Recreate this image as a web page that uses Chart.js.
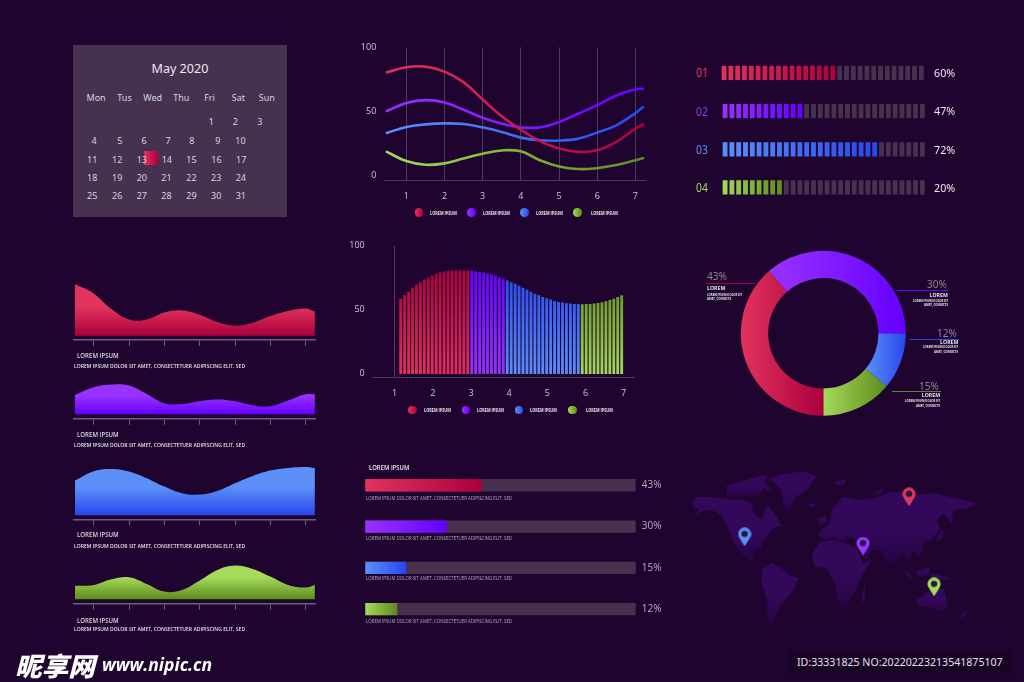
<!DOCTYPE html>
<html>
<head>
<meta charset="utf-8">
<title>Dashboard</title>
<script src="https://cdn.jsdelivr.net/npm/chart.js@4/dist/chart.umd.min.js"></script>
<style>
  html, body { margin: 0; padding: 0; width: 1024px; height: 682px; overflow: hidden; background: #1e042e; }
  canvas, .t, .r, svg { position: absolute; }
  .t { white-space: nowrap; line-height: 1; font-family: "Open Sans", sans-serif; transform-origin: 0 50%; }
</style>
</head>
<body>
<svg style="left:680px;top:460px" width="320" height="180" viewBox="0 0 960 540">
  <defs><linearGradient id="land" x1="0" y1="0" x2="0" y2="1">
    <stop offset="0" stop-color="#33075a"/><stop offset="0.5" stop-color="#33075a"/><stop offset="1" stop-color="#270445"/>
  </linearGradient></defs>
  <g fill="url(#land)">
    <path d="M35,125 L50,112 L90,110 L130,115 L150,120 L175,118 L205,125 L222,135 L215,150 L232,170 L248,178 L250,160 L262,135 L280,155 L292,175 L305,198 L285,200 L270,215 L258,235 L245,250 L245,265 L232,262 L225,275 L218,290 L240,315 L225,305 L205,297 L190,285 L175,268 L160,245 L150,220 L140,195 L125,170 L110,155 L85,150 L60,155 L45,168 L58,148 L40,140 Z"/>
    <path d="M140,78 L190,62 L240,48 L262,45 L255,65 L275,95 L250,85 L240,105 L200,108 L140,110 Z"/>
    <path d="M268,55 L320,40 L370,35 L410,48 L385,85 L345,115 L325,155 L310,130 L305,90 Z"/>
    <path d="M380,135 L405,128 L405,140 L385,143 Z"/>
    <path d="M465,65 L500,57 L490,75 L470,78 Z"/>
    <path d="M245,330 L275,310 L305,325 L325,345 L355,355 L340,390 L320,415 L295,445 L275,495 L262,470 L262,420 L245,370 Z"/>
    <path d="M395,285 L420,245 L470,240 L510,255 L530,265 L550,310 L575,300 L545,350 L530,390 L495,438 L475,425 L465,370 L440,325 L405,320 Z"/>
    <path d="M415,225 L430,205 L450,190 L455,150 L490,110 L540,120 L580,115 L640,95 L700,105 L760,100 L830,115 L890,130 L865,145 L820,150 L815,190 L790,160 L770,180 L780,205 L750,245 L735,240 L720,290 L695,275 L690,300 L665,285 L640,310 L620,310 L605,270 L575,270 L560,300 L530,260 L520,235 L500,230 L490,245 L460,230 L430,240 Z"/>
    <path d="M415,180 L435,165 L440,190 L420,195 Z"/>
    <path d="M575,110 L610,80 L605,100 Z"/>
    <path d="M775,225 L790,205 L790,230 L765,250 Z"/>
    <path d="M670,330 L700,350 L690,360 Z"/>
    <path d="M710,335 L745,320 L750,345 L715,350 Z"/>
    <path d="M755,340 L810,355 L790,365 L750,355 Z"/>
    <path d="M710,420 L745,395 L790,385 L805,440 L780,455 L750,440 L715,440 Z"/>
    <path d="M835,470 L865,450 L850,475 Z"/>
    <path d="M545,410 L555,375 L555,410 L545,440 Z"/>
  </g>
</svg>
<script>
// line chart
const lineX = [0.49, 1, 1.5, 2, 2.5, 3, 3.5, 4, 4.5, 5, 5.5, 6, 6.5, 7, 7.2];
const lineRed = [80.6, 84.5, 85, 81.1, 72.9, 59.4, 46.3, 35.9, 26.9, 21.2, 18.6, 19.9, 26.4, 36.7, 39.8];
const linePurple = [50.4, 56.6, 58.9, 57.1, 51.4, 45.2, 40.6, 37.7, 37.7, 41.9, 48.3, 55, 62.5, 67.4, 67.7];
const lineBlue = [33.3, 38, 40, 40.8, 40.3, 37.7, 34.1, 29.7, 27.6, 27.4, 28.9, 33.6, 39.3, 48.8, 53.5];
const lineGreen = [18.6, 11.4, 8.5, 9.6, 13.4, 17.1, 19.7, 19, 12, 7.2, 5.2, 5.9, 8.3, 12.1, 13.7];
const xTicks = [1, 2, 3, 4, 5, 6, 7];
const yTicks = [0, 50, 100];
const legendLabel = 'LOREM IPSUM';

// comb chart, one height per tooth
const combRed = [58.2, 60.8, 63.7, 66.8, 69.1, 71.1, 73.2, 74.7, 76.3, 77.6, 78.6, 79.4, 79.9, 80.2, 80.4, 80.4, 80.4, 80.4];
const combPurple = [80.2, 79.6, 79.1, 78.6, 77.8, 77.3, 76.3, 75, 74];
const combBlue = [72.4, 71.1, 69.8, 68.3, 66.8, 65.2, 63.7, 62.1, 60.8, 59.5, 58.5, 57.5, 56.4, 55.7, 55.2, 54.6, 54.4, 54.1, 54.1];
const combGreen = [53.9, 54.1, 54.1, 54.4, 54.9, 55.4, 56.2, 57.2, 58.2, 59.5, 60.8];

// area charts
const areaX = [0.47, 1, 1.5, 2, 2.5, 3, 3.5, 4, 4.5, 5, 5.5, 6, 6.5, 7, 7.26];
const areaRed = [51.7, 42.3, 26.7, 16.3, 16.3, 23.3, 25.3, 21, 13.7, 10, 13, 19.7, 24.7, 27.3, 24];
const areaPurple = [19.3, 27, 29.7, 28.7, 20.3, 11, 10.3, 13, 14.7, 13, 9, 8, 13.7, 20, 20];
const areaBlue = [34.7, 44, 46.3, 43.7, 37, 28.7, 22, 20.7, 24.3, 32, 39.3, 44.7, 47.3, 48.3, 47.3];
const areaGreen = [13.3, 14.3, 20, 22, 15.3, 7.7, 9.3, 18.7, 29.3, 33.7, 30.3, 22.7, 14.3, 11.7, 14.3];

// segmented meters
const segCells = [1, 1, 1, 1, 1, 1, 1, 1, 1, 1, 1, 1, 1, 1, 1, 1, 1, 1, 1, 1, 1, 1, 1, 1, 1, 1, 1, 1, 1, 1];
const segNames = ['01', '02', '03', '04'];
const segFilled = [17, 12, 23, 9];
const segPercent = ['60%', '47%', '72%', '20%'];

// doughnut, arcs as drawn, clockwise from 3 o'clock
const donutValues = [11.1, 13.9, 38.6, 36.4];

// horizontal gauges
const gaugeLabels = ['43%', '30%', '15%', '12%'];
const gaugeValues = [43, 30, 15, 11.7];
const gaugeTrack = [100, 100, 100, 100];

// map pins as lon / lat
const pinLon = [77.6, -107.3, 25.9, 105.8];
const pinLat = [53.3, 13.3, 4, -36.7];

// calendar
const weekDays = ['Mon', 'Tus', 'Wed', 'Thu', 'Fri', 'Sat', 'Sun'];
const calRows = [[1, 2, 3], [4, 5, 6, 7, 8, 9, 10], [11, 12, 13, 14, 15, 16, 17], [18, 19, 20, 21, 22, 23, 24], [25, 26, 27, 28, 29, 30, 31]];

const RED = ['#e2335e', '#ab003c'];
const PURPLE = ['#9933ff', '#6400ff'];
const BLUE = ['#5c90f8', '#2846ee'];
const GREEN = ['#a5da5a', '#5c8a1c'];
const SERIES = [RED, PURPLE, BLUE, GREEN];
const TRACK = '#46324f';
const AXIS = '#4c3b5c';
const TICK_TEXT = '#cfcad4';

Chart.defaults.animation = false;
Chart.defaults.font.family = '"Open Sans", sans-serif';
Chart.defaults.plugins.legend.display = false;
Chart.defaults.plugins.tooltip.enabled = false;

function text(str, x, y, o) {
  o = o || {};
  const el = document.createElement('div');
  el.className = 't';
  el.textContent = str;
  el.style.left = x + 'px';
  el.style.top = y + 'px';
  el.style.fontSize = (o.size || 9) + 'px';
  el.style.color = o.color || '#e6e2ea';
  if (o.weight) el.style.fontWeight = o.weight;
  if (o.family) el.style.fontFamily = o.family;
  if (o.style) el.style.fontStyle = o.style;
  document.body.appendChild(el);
  const w = el.offsetWidth;
  const sx = o.w ? o.w / w : 1;
  const shown = w * sx;
  let dx = 0;
  if (o.align === 'right') dx = -shown;
  if (o.align === 'center') dx = -shown / 2;
  el.style.transform = 'translate(' + dx + 'px,-50%) scaleX(' + sx + ')';
  return el;
}

function rect(x, y, w, h, bg) {
  const el = document.createElement('div');
  el.className = 'r';
  el.style.cssText = 'left:' + x + 'px;top:' + y + 'px;width:' + w + 'px;height:' + h + 'px;background:' + bg;
  document.body.appendChild(el);
}

// box is the wanted plot area in page pixels, axisL/R/B the room for the axes
function addChart(box, config) {
  const gap = 12;
  const aL = box.axisL || 0, aR = box.axisR || 0, aB = box.axisB || 0;
  const left = Math.floor(box.l - aL - gap), top = Math.floor(box.t - gap);
  const right = Math.ceil(box.r + aR + gap), bottom = Math.ceil(box.b + aB + gap);
  const canvas = document.createElement('canvas');
  canvas.width = right - left;
  canvas.height = bottom - top;
  canvas.style.left = left + 'px';
  canvas.style.top = top + 'px';
  document.body.appendChild(canvas);
  config.options = config.options || {};
  config.options.responsive = false;
  config.options.layout = { padding: { left: box.l - aL - left, top: box.t - top, right: right - box.r - aR, bottom: bottom - box.b - aB } };
  const sc = config.options.scales;
  if (sc && sc.x && aB) sc.x.afterFit = function (s) { s.height = aB; };
  if (sc && sc.y && aL) sc.y.afterFit = function (s) { s.width = aL; };
  if (sc && sc.y && aR) sc.y.afterFit = function (s) { s.width = aR; };
  return new Chart(canvas, config);
}

function hGrad(c, pair) {
  const a = c.chart.chartArea;
  if (!a) return pair[0];
  const g = c.chart.ctx.createLinearGradient(a.left, 0, a.right, 0);
  g.addColorStop(0, pair[0]);
  g.addColorStop(1, pair[1]);
  return g;
}

function setTicks(list) {
  return function (s) { s.ticks = list.map(function (v) { return { value: v }; }); };
}

function legendRow(dots, textX, y) {
  SERIES.forEach(function (pair, i) {
    const d = document.createElement('div');
    d.className = 'r';
    d.style.cssText = 'left:' + (dots[i] - 4.3) + 'px;top:' + (y - 4.3) + 'px;width:8.6px;height:8.6px;border-radius:50%;background:linear-gradient(90deg,' + pair[0] + ',' + pair[1] + ')';
    document.body.appendChild(d);
    text(legendLabel, textX[i], y, { size: 4.6, weight: 700, w: 26.7, color: '#ece8ef' });
  });
}

/* ---------- calendar ---------- */
const CAL_FONT = '"Noto Sans", sans-serif';
rect(73.3, 45, 213.4, 172.3, TRACK);
text('May 2020', 180, 68, { size: 13, align: 'center', w: 57, color: '#ece8ef', family: CAL_FONT });
const dayX = [96, 124.3, 152.7, 181.3, 209.7, 238.3, 266.7];
weekDays.forEach(function (d, i) { text(d, dayX[i], 97, { size: 9, align: 'center', color: '#d8d2dc', family: CAL_FONT }); });
rect(144.3, 151, 13.7, 13.7, 'linear-gradient(90deg,' + RED[0] + ',' + RED[1] + ')');
const rowX = [
  [211.3, 235.3, 259.7],
  [94, 119.7, 144, 168, 191.7, 217.7, 240.3],
  [92, 117, 141.7, 166.7, 191.3, 216.3, 241],
  [92, 117, 141.7, 166.3, 191.3, 216, 240.7],
  [92, 117, 141.7, 166.3, 191.3, 216, 240.7]
];
const rowY = [121.3, 139.7, 158.7, 177, 195.3];
calRows.forEach(function (row, r) {
  row.forEach(function (d, i) {
    text(String(d), rowX[r][i], rowY[r], { size: 9, align: 'center', color: '#d8d2dc', family: CAL_FONT });
  });
});

/* ---------- area charts ---------- */
function areaChart(values, pair, plotTop, base, axisY) {
  addChart({ l: 73.3, r: 315, t: plotTop, b: axisY, axisB: 8 }, {
    type: 'line',
    data: {
      datasets: [{
        data: values.map(function (v, i) { return { x: areaX[i], y: v }; }),
        borderWidth: 0,
        pointRadius: 0,
        tension: 0.4,
        fill: { value: 0 },
        backgroundColor: function (c) {
          const a = c.chart.chartArea;
          if (!a) return pair[0];
          const bottom = a.bottom - (axisY - base);
          const y0 = Math.max(a.top, bottom - 52);
          const g = c.chart.ctx.createLinearGradient(0, y0, 0, bottom);
          g.addColorStop(0, pair[0]);
          g.addColorStop(0.45, pair[0]);
          g.addColorStop(1, pair[1]);
          return g;
        }
      }]
    },
    options: {
      scales: {
        x: {
          type: 'linear', min: 0.423, max: 7.263,
          afterBuildTicks: setTicks(xTicks),
          ticks: { display: false },
          grid: { drawOnChartArea: false, drawTicks: true, tickLength: 6, tickColor: '#6d5f7c', lineWidth: 1 },
          border: { color: '#6d5f7c', width: 1.5 }
        },
        y: { display: false, min: -(axisY - base), max: base - plotTop }
      }
    }
  });
}
areaChart(areaRed, RED, 281, 335.7, 340);
areaChart(areaPurple, PURPLE, 380, 414.3, 418.7);
areaChart(areaBlue, BLUE, 463, 515.3, 519.3);
areaChart(areaGreen, GREEN, 560, 599.3, 603.7);

const subLine = 'LOREM IPSUM DOLOR SIT AMET, CONSECTETUER ADIPISCING ELIT, SED';
[[356, 366.3], [435.3, 445], [534.7, 545.7], [621, 629.3]].forEach(function (p) {
  text('LOREM IPSUM', 76.7, p[0], { size: 6.5, w: 41.3, color: '#ddd8e2', weight: 600 });
  text(subLine, 73.7, p[1], { size: 5, w: 171, color: '#e8e4ec', weight: 600 });
});

/* ---------- line chart ---------- */
function lineSet(values, pair) {
  return {
    data: values.map(function (v, i) { return { x: lineX[i], y: v }; }),
    borderWidth: 2.6,
    pointRadius: 0,
    tension: 0.4,
    borderCapStyle: 'round',
    borderColor: function (c) { return hGrad(c, pair); }
  };
}
addChart({ l: 384.3, r: 645.7, t: 46.7, b: 180.3, axisL: 24, axisB: 26 }, {
  type: 'line',
  data: { datasets: [lineSet(lineRed, RED), lineSet(linePurple, PURPLE), lineSet(lineBlue, BLUE), lineSet(lineGreen, GREEN)] },
  options: {
    scales: {
      x: {
        type: 'linear', min: 0.424, max: 7.27,
        afterBuildTicks: setTicks(xTicks),
        ticks: { color: TICK_TEXT, font: { size: 9 }, padding: 11, maxRotation: 0 },
        grid: { color: AXIS, drawTicks: false },
        border: { color: AXIS }
      },
      y: {
        min: -3.57, max: 100,
        afterBuildTicks: setTicks(yTicks),
        ticks: { color: TICK_TEXT, font: { size: 9 }, padding: 8, callback: function (v) { return String(v); } },
        grid: { display: false, drawTicks: false },
        border: { display: false }
      }
    }
  }
});
legendRow([419, 471.7, 524.7, 577.3], [430, 483, 535.7, 591.3], 212.7);

/* ---------- comb chart ---------- */
const combStart = 1.157, combStep = 0.1034;
function combSet(values, first, pair) {
  return {
    data: values.map(function (v, i) { return { x: combStart + (first + i) * combStep, y: v }; }),
    barThickness: 2.2,
    backgroundColor: function (c) {
      const a = c.chart.chartArea;
      if (!a) return pair[0];
      const g = c.chart.ctx.createLinearGradient(0, a.top + 25, 0, a.bottom);
      g.addColorStop(0, pair[1]);
      g.addColorStop(1, pair[0]);
      return g;
    }
  };
}
addChart({ l: 372.7, r: 634, t: 244.3, b: 377.3, axisL: 24, axisB: 26 }, {
  type: 'bar',
  data: { datasets: [combSet(combRed, 0, RED), combSet(combPurple, 18, PURPLE), combSet(combBlue, 27, BLUE), combSet(combGreen, 46, GREEN)] },
  options: {
    scales: {
      x: {
        type: 'linear', min: 0.424, max: 7.27, offset: false,
        afterBuildTicks: setTicks(xTicks),
        ticks: { color: TICK_TEXT, font: { size: 9 }, padding: 11, maxRotation: 0 },
        grid: {
          drawTicks: false,
          offset: false,
          color: function (c) { return c.tick && c.tick.value === 1 ? AXIS : 'rgba(0,0,0,0)'; }
        },
        border: { color: AXIS }
      },
      y: {
        min: -2.8, max: 100,
        afterBuildTicks: setTicks(yTicks),
        ticks: { color: TICK_TEXT, font: { size: 9 }, padding: 8, callback: function (v) { return String(v); } },
        grid: { display: false, drawTicks: false },
        border: { display: false }
      }
    },
    datasets: { bar: { grouped: false } }
  }
});
legendRow([412.7, 466, 519, 572.3], [424, 477, 530, 586], 410);

/* ---------- segmented meters ---------- */
const segTop = [65.7, 104, 142.3, 180.3];
const segLeft = [720.7, 721.7, 721.7, 721.7];
SERIES.forEach(function (pair, r) {
  addChart({ l: segLeft[r], r: segLeft[r] + 204, t: segTop[r], b: segTop[r] + 14.3 }, {
    type: 'bar',
    data: {
      labels: segCells.map(function (v, i) { return i + 1; }),
      datasets: [{
        data: segCells,
        barThickness: 4.2,
        backgroundColor: function (c) {
          if (c.dataIndex >= segFilled[r]) return TRACK;
          const a = c.chart.chartArea;
          if (!a) return pair[0];
          const g = c.chart.ctx.createLinearGradient(a.left, 0, a.left + segFilled[r] * 6.8, 0);
          g.addColorStop(0, pair[0]);
          g.addColorStop(1, pair[1]);
          return g;
        }
      }]
    },
    options: { scales: { x: { display: false }, y: { display: false, min: 0, max: 1 } } }
  });
  text(segNames[r], 695.7, segTop[r] + 7.5, { size: 12, color: pair[0], w: 12, family: CAL_FONT });
  text(segPercent[r], 934, segTop[r] + 7.2, { size: 11.5, color: '#ece8ef', w: 21.5, family: CAL_FONT });
});

/* ---------- doughnut ---------- */
const donutColors = [BLUE, GREEN, RED, PURPLE];
const donutSpan = [[865, 906], [823, 888], [741, 823], [768, 906]];
addChart({ l: 740.8, r: 905.8, t: 250.8, b: 415.8 }, {
  type: 'doughnut',
  data: {
    labels: ['blue', 'green', 'red', 'purple'],
    datasets: [{
      data: donutValues,
      borderWidth: 0,
      backgroundColor: function (c) {
        const i = c.dataIndex;
        const off = c.chart.canvas.offsetLeft;
        const g = c.chart.ctx.createLinearGradient(donutSpan[i][0] - off, 0, donutSpan[i][1] - off, 0);
        g.addColorStop(0, donutColors[i][0]);
        g.addColorStop(1, donutColors[i][1]);
        return g;
      }
    }]
  },
  options: { rotation: 90, cutout: '66.9%' }
});
const donutNoteA = 'LOREM IPSUM DOLOR SIT';
const donutNoteB = 'AMET, CONSECTS';
const GREY = '#8d8396';
text('43%', 706.7, 275.7, { size: 11.5, color: GREY, w: 20, family: CAL_FONT });
rect(706, 282.5, 49, 1, RED[1]);
text('LOREM', 707, 288.7, { size: 5.2, weight: 700 });
text(donutNoteA, 706.7, 295.3, { size: 3.7, weight: 700, w: 35 });
text(donutNoteB, 706.7, 299, { size: 3.7, weight: 700, w: 24 });
[['30%', 946.7, 284.3, 897.3, 51, 290, 296.3, 301, 305.3, PURPLE[1]],
 ['12%', 957.3, 333.3, 910, 48.7, 339, 342.7, 347.3, 351.7, BLUE[1]],
 ['15%', 939, 385.7, 891.7, 49, 391, 396.3, 401.3, 405.7, GREEN[1]]].forEach(function (n) {
  text(n[0], n[1], n[2], { size: 11.5, color: GREY, align: 'right', w: 20, family: CAL_FONT });
  rect(n[3], n[5] - 0.5, n[4], 1, n[9]);
  text('LOREM', n[1] + 0.8, n[6], { size: 5.2, weight: 700, align: 'right' });
  text(donutNoteA, n[1] + 0.8, n[7], { size: 3.7, weight: 700, align: 'right', w: 35 });
  text(donutNoteB, n[1] + 0.8, n[8], { size: 3.7, weight: 700, align: 'right', w: 24 });
});

/* ---------- gauges ---------- */
const gaugePairs = [RED, PURPLE, BLUE, GREEN];
addChart({ l: 365.3, r: 635.7, t: 464.6, b: 629.8, axisR: 30 }, {
  type: 'bar',
  data: {
    labels: gaugeLabels,
    datasets: [
      {
        data: gaugeValues,
        order: 1,
        barThickness: 11.6,
        backgroundColor: function (c) {
          const x = c.chart.scales.x;
          const pair = gaugePairs[c.dataIndex];
          if (!x || !c.chart.chartArea) return pair[0];
          const g = c.chart.ctx.createLinearGradient(x.getPixelForValue(0), 0, x.getPixelForValue(c.raw), 0);
          g.addColorStop(0, pair[0]);
          g.addColorStop(1, pair[1]);
          return g;
        }
      },
      { data: gaugeTrack, order: 2, barThickness: 11.6, backgroundColor: TRACK }
    ]
  },
  options: {
    indexAxis: 'y',
    datasets: { bar: { grouped: false } },
    scales: {
      x: { display: false, min: 0, max: 100 },
      y: {
        position: 'right',
        ticks: { color: '#b9b1c0', font: { size: 10 }, padding: 6 },
        grid: { display: false, drawTicks: false },
        border: { display: false }
      }
    }
  }
});
text('LOREM IPSUM', 369, 468, { size: 6.5, w: 40, weight: 600, color: '#eeeaf1' });
[498, 538.3, 578.3, 620.7].forEach(function (y) {
  text('LOREM IPSUM DOLOR SIT AMET, CONSECTETUER ADIPISCING ELIT, SED', 365.7, y, { size: 4.4, w: 145.7, color: '#b5acbc' });
});

/* ---------- map pins ---------- */
function makePin(color) {
  const c = document.createElement('canvas');
  c.width = 14;
  c.height = 19;
  const x = c.getContext('2d');
  x.fillStyle = color;
  x.beginPath();
  x.arc(7, 6.7, 6.5, Math.PI * 0.85, Math.PI * 0.15);
  x.quadraticCurveTo(11, 13, 7, 19);
  x.quadraticCurveTo(3, 13, 1.2, 9.6);
  x.fill();
  x.fillStyle = '#1f1d38';
  x.beginPath();
  x.arc(7, 6.6, 3.2, 0, Math.PI * 2);
  x.fill();
  return c;
}
const pins = [makePin(RED[0]), makePin(BLUE[0]), makePin(PURPLE[0]), makePin(GREEN[0])];
addChart({ l: 680, r: 1000, t: 460, b: 640 }, {
  type: 'scatter',
  data: {
    datasets: [{
      data: pinLon.map(function (v, i) { return { x: v, y: pinLat[i] }; }),
      clip: false,
      pointStyle: function (c) { return pins[c.dataIndex] || pins[0]; }
    }]
  },
  options: { scales: { x: { display: false, min: -180, max: 180 }, y: { display: false, min: -90, max: 90 } } }
});

/* ---------- watermark ---------- */
rect(788, 651, 224, 22, '#190426');
text('ID:33331825 NO:20220223213541875107', 797, 661, { size: 11, w: 206, color: '#e4e0e8', family: CAL_FONT });
text('昵享网', 15, 665, { size: 26, weight: 900, style: 'italic', color: '#ffffff', family: '"Noto Sans CJK SC", sans-serif', w: 80 });
text('www.nipic.cn', 102, 664, { size: 17, weight: 700, style: 'italic', color: '#ffffff', family: '"Open Sans", sans-serif', w: 110 });
</script>
</body>
</html>
